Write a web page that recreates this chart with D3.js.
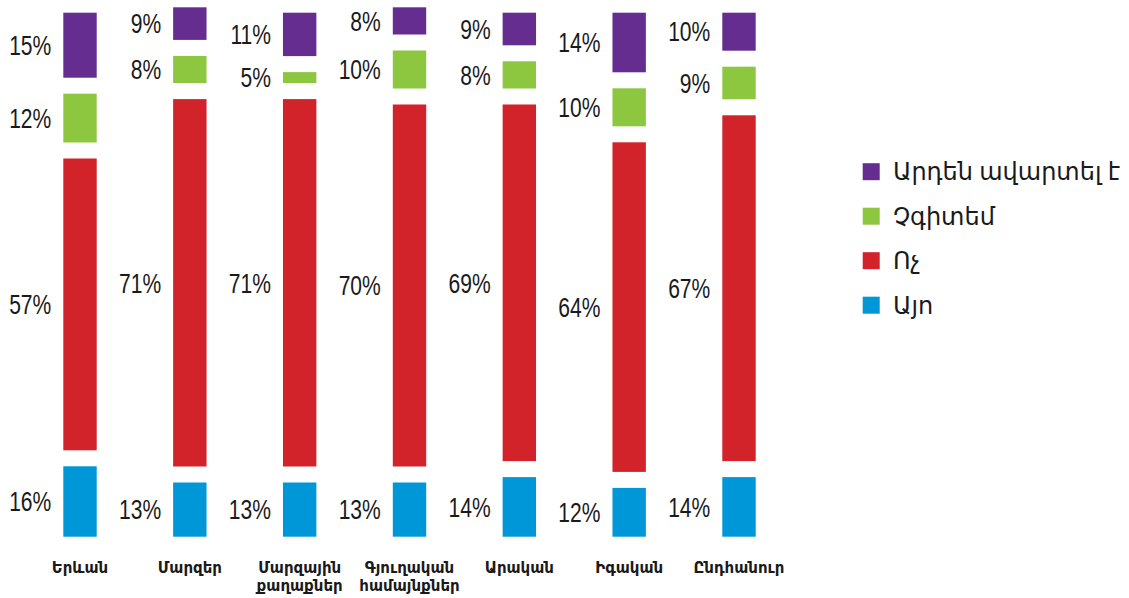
<!DOCTYPE html>
<html>
<head>
<meta charset="utf-8">
<script src="https://cdn.jsdelivr.net/npm/d3@7"></script>
<style>
  html, body { margin: 0; padding: 0; background: #fff; }
  svg { display: block; }
</style>
</head>
<body>
<svg id="chart" width="1129" height="598"></svg>
<script>
// Regions (two-line names split with \n)
const categories = [
  "Երևան",
  "Մարզեր",
  "Մարզային\nքաղաքներ",
  "Գյուղական\nհամայնքներ",
  "Արական",
  "Իգական",
  "Ընդհանուր"
];

// Series, stacked from the bottom up
const seriesNames = ["Այո", "Ոչ", "Չգիտեմ", "Արդեն ավարտել է"];
const yesValues      = [16, 13, 13, 13, 14, 12, 14];
const noValues       = [57, 71, 71, 70, 69, 64, 67];
const dontKnowValues = [12,  8,  5, 10,  8, 10,  9];
const finishedValues = [15,  9, 11,  8,  9, 14, 10];

const seriesColors = ["#0097d8", "#d2232a", "#8dc63f", "#662d91"];

const svg = d3.select("#chart");

const rows = categories.map((c, i) => ({
  category: c,
  "Այո": yesValues[i],
  "Ոչ": noValues[i],
  "Չգիտեմ": dontKnowValues[i],
  "Արդեն ավարտել է": finishedValues[i]
}));

const stacked = d3.stack().keys(seriesNames)(rows);

const x = d3.scalePoint().domain(categories).range([80, 739]);
const barW = 33.4;
const y = d3.scaleLinear().domain([0, 100]).range([536.7, -3.3]);
const gap = 16; // white space left above every segment
const color = d3.scaleOrdinal().domain(seriesNames).range(seriesColors);

const layers = svg.append("g").selectAll("g.layer")
  .data(stacked)
  .join("g")
  .attr("class", "layer")
  .attr("fill", d => color(d.key));

layers.selectAll("rect")
  .data(d => d.map(p => ({ p, key: d.key })))
  .join("rect")
  .attr("x", d => x(d.p.data.category) - barW / 2)
  .attr("y", d => y(d.p[1]) + gap)
  .attr("width", barW)
  .attr("height", d => Math.max(0, y(d.p[0]) - y(d.p[1]) - gap));

// Value labels to the left of each segment
const labelG = svg.append("g")
  .attr("font-family", "'Liberation Sans', Arial, sans-serif")
  .attr("font-size", 27)
  .attr("fill", "#1a1a1a");

stacked.forEach(layer => {
  layer.forEach(p => {
    const top = y(p[1]) + gap;
    const bottom = y(p[0]);
    const cy = (top + bottom) / 2;
    const lx = x(p.data.category) - barW / 2 - 12;
    labelG.append("text")
      .attr("transform", `translate(${lx},${cy}) scale(0.78,1)`)
      .attr("text-anchor", "end")
      .attr("dy", "0.36em")
      .text((p[1] - p[0]) + "%");
  });
});

// Category names below the bars, one text per line
const catG = svg.append("g")
  .attr("font-family", "'DejaVu Sans', 'Noto Sans', sans-serif")
  .attr("font-weight", "bold")
  .attr("font-size", 15)
  .attr("fill", "#1a1a1a");

categories.forEach(c => {
  c.split("\n").forEach((line, j) => {
    catG.append("text")
      .attr("x", x(c))
      .attr("y", 573 + j * 17.5)
      .attr("text-anchor", "middle")
      .text(line);
  });
});

// Legend, top-most series first
const legendOrder = seriesNames.slice().reverse();
const legend = svg.append("g")
  .attr("font-family", "'Noto Sans', 'DejaVu Sans', sans-serif")
  .attr("font-size", 24)
  .attr("fill", "#1a1a1a");

legendOrder.forEach((name, i) => {
  const cy = 171.7 + i * 44.5;
  legend.append("rect")
    .attr("x", 862.7)
    .attr("y", cy - 8.5)
    .attr("width", 17)
    .attr("height", 17)
    .attr("fill", color(name));
  legend.append("text")
    .attr("x", 893)
    .attr("y", cy)
    .attr("dy", "0.35em")
    .text(name);
});
</script>
</body>
</html>
